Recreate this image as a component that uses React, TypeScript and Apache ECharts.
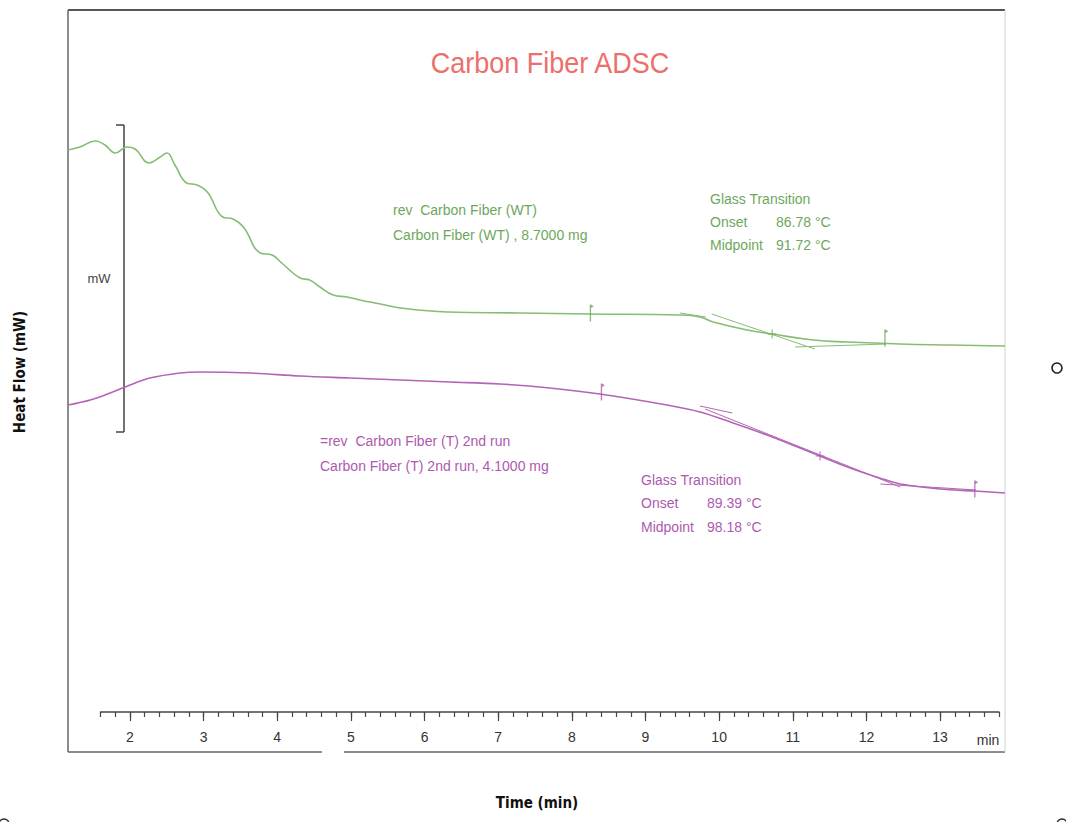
import React, { useEffect, useRef } from "react";
import * as echarts from "echarts";

// Reversing heat flow, Carbon Fiber (WT), 8.7000 mg
const wtTime = [1.16, 1.32, 1.53, 1.66, 1.80, 1.96, 2.07, 2.26, 2.41, 2.50, 2.61, 2.77, 2.91, 3.05, 3.26, 3.40, 3.54, 3.77, 3.93, 4.06, 4.31, 4.44, 4.58, 4.76, 4.95, 5.12, 5.40, 5.67, 6.31, 7.30, 8.25, 9.47, 9.74, 9.92, 10.38, 10.72, 11.28, 11.74, 12.46, 13.14, 13.88];
const wtFlow = [6.02, 6.05, 6.11, 6.07, 5.99, 6.05, 6.03, 5.89, 5.95, 5.99, 5.87, 5.69, 5.67, 5.60, 5.35, 5.33, 5.25, 4.99, 4.97, 4.89, 4.74, 4.72, 4.65, 4.57, 4.55, 4.52, 4.48, 4.44, 4.40, 4.39, 4.38, 4.37, 4.35, 4.30, 4.22, 4.18, 4.12, 4.10, 4.08, 4.07, 4.06];

// Reversing heat flow, Carbon Fiber (T) 2nd run, 4.1000 mg
const tTime = [1.16, 1.46, 1.73, 2.00, 2.27, 2.68, 2.95, 3.63, 4.31, 4.99, 5.67, 6.35, 7.02, 7.70, 8.38, 9.29, 9.74, 10.19, 10.65, 11.10, 11.37, 11.78, 12.18, 12.46, 13.00, 13.47, 13.88];
const tFlow = [3.47, 3.52, 3.59, 3.67, 3.74, 3.79, 3.80, 3.79, 3.76, 3.74, 3.72, 3.70, 3.68, 3.64, 3.58, 3.47, 3.40, 3.29, 3.17, 3.04, 2.96, 2.84, 2.74, 2.68, 2.63, 2.61, 2.59];

// Glass transition constructions (tangent / baseline extensions)
const wtTangent = [[9.90, 4.38], [11.30, 4.03]];
const wtPreBase = [[9.47, 4.39], [9.82, 4.35]];
const wtPostBase = [[11.03, 4.05], [12.27, 4.08]];
const tTangent = [[9.81, 3.43], [12.46, 2.65]];
const tPreBase = [[9.74, 3.46], [10.18, 3.39]];
const tPostBase = [[12.19, 2.68], [13.49, 2.62]];

// Onset/end limit flags and midpoint crosses
const wtFlags = [[8.27, 4.39], [12.27, 4.14]];
const wtMid = [[10.72, 4.18]];
const tFlags = [[8.42, 3.60], [13.49, 2.63]];
const tMid = [[11.37, 2.96]];

const tickLabels = [2, 3, 4, 5, 6, 7, 8, 9, 10, 11, 12, 13];

const GREEN_LINE = "#86bd74";
const GREEN_TEXT = "#6da75d";
const PURPLE_LINE = "#b464b6";
const PURPLE_TEXT = "#ad5aae";
const FONT = '"Liberation Sans Narrow", "Liberation Sans", Arial, sans-serif';
const AXFONT = '"DejaVu Sans Condensed", "DejaVu Sans", sans-serif';

const FLAG = "path://M0,0h1.3v16h-1.3z M1.3,0l2.6,1.6l-2.6,1.6z";
const CROSS = "path://M4,0h1.2v4h4v1.2h-4v4h-1.2v-4h-4v-1.2h4z";

function txt(text: string, x: number, y: number, fill: string, size = 14, align = "left", font = FONT, extra: any = {}, weight = "normal") {
  return {
    type: "text",
    x,
    y,
    silent: true,
    ...extra,
    style: {
      text,
      fill,
      font: `${weight} ${size}px ${font}`,
      textAlign: align,
      textVerticalAlign: "middle",
      verticalAlign: "middle",
    },
  };
}

function ln(x1: number, y1: number, x2: number, y2: number, stroke: string, lineWidth = 1.5) {
  return { type: "line", silent: true, shape: { x1, y1, x2, y2 }, style: { stroke, lineWidth } };
}

export default function App() {
  const ref = useRef<HTMLDivElement>(null);
  useEffect(() => {
    document.body.style.margin = "0";
    if (!ref.current) return;
    const chart = echarts.init(ref.current, undefined, { renderer: "svg" });
    const zip = (a: number[], b: number[]) => a.map((v, i) => [v, b[i]]);
    const construction = (data: number[][], color: string) => ({
      type: "line",
      data,
      xAxisIndex: 0,
      yAxisIndex: 0,
      symbol: "none",
      lineStyle: { color, width: 1 },
      silent: true,
      z: 3,
    });
    const marks = (data: number[][], symbol: string, size: number[], color: string) => ({
      type: "scatter",
      data,
      xAxisIndex: 0,
      yAxisIndex: 0,
      symbol,
      symbolSize: size,
      symbolKeepAspect: false,
      itemStyle: { color },
      silent: true,
      z: 4,
    });
    chart.setOption({
      animation: false,
      backgroundColor: "#ffffff",
      grid: [
        { left: 68, right: 61, top: 10, bottom: 70 },
        { left: 100.5, right: 67, top: 700, height: 12 },
      ],
      xAxis: [
        { type: "value", gridIndex: 0, min: 1.158, max: 13.882, show: false },
        {
          type: "value",
          gridIndex: 1,
          min: 1.6,
          max: 13.8,
          interval: 0.2,
          position: "bottom",
          axisLine: { show: true, lineStyle: { color: "#444", width: 1.5 } },
          axisTick: { show: true, length: 5, lineStyle: { color: "#444", width: 1.2 } },
          axisLabel: { show: false },
          splitLine: { show: false },
        },
        {
          type: "value",
          gridIndex: 1,
          min: 1.6,
          max: 13.8,
          position: "bottom",
          axisLine: { show: false },
          axisTick: { show: true, length: 9, customValues: tickLabels, lineStyle: { color: "#444", width: 1.2 } },
          axisLabel: { show: true, customValues: tickLabels, margin: 18, color: "#333", fontSize: 14, fontFamily: FONT },
          splitLine: { show: false },
        },
      ],
      yAxis: [
        { type: "value", gridIndex: 0, min: 0, max: 7.42, show: false },
        { type: "value", gridIndex: 1, show: false },
      ],
      series: [
        {
          type: "line",
          name: "rev Carbon Fiber (WT)",
          data: zip(wtTime, wtFlow),
          smooth: 0.45,
          symbol: "none",
          lineStyle: { color: GREEN_LINE, width: 1.6 },
          z: 2,
        },
        {
          type: "line",
          name: "rev Carbon Fiber (T) 2nd run",
          data: zip(tTime, tFlow),
          smooth: 0.35,
          symbol: "none",
          lineStyle: { color: PURPLE_LINE, width: 1.6 },
          z: 2,
        },
        construction(wtTangent, GREEN_LINE),
        construction(wtPreBase, GREEN_LINE),
        construction(wtPostBase, GREEN_LINE),
        construction(tTangent, PURPLE_LINE),
        construction(tPreBase, PURPLE_LINE),
        construction(tPostBase, PURPLE_LINE),
        marks(wtFlags, FLAG, [4, 17], GREEN_TEXT),
        marks(wtMid, CROSS, [9, 9], GREEN_TEXT),
        marks(tFlags, FLAG, [4, 17], PURPLE_TEXT),
        marks(tMid, CROSS, [9, 9], PURPLE_TEXT),
      ],
      graphic: [
        // frame
        ln(68, 10, 1005, 10, "#555", 2.2),
        ln(68, 10, 68, 752, "#666", 1.5),
        ln(68, 752, 322, 752, "#666", 1.5),
        ln(344, 752, 1005, 752, "#666", 1.5),
        ln(1005, 10, 1005, 752, "#d0d0d0", 1),
        // mW scale bar
        ln(124, 125, 124, 432, "#444", 1.5),
        ln(116, 125, 124, 125, "#444", 1.5),
        ln(116, 432, 124, 432, "#444", 1.5),
        txt("mW", 99, 278, "#444", 13, "center"),
        // title
        txt("Carbon Fiber ADSC", 550, 62, "#ec6f6c", 30, "center", FONT, { scaleX: 0.9 }),
        // green annotations
        txt("rev  Carbon Fiber (WT)", 393, 210, GREEN_TEXT),
        txt("Carbon Fiber (WT) , 8.7000 mg", 393, 235, GREEN_TEXT),
        txt("Glass Transition", 710, 199, GREEN_TEXT),
        txt("Onset", 710, 222, GREEN_TEXT),
        txt("86.78 °C", 776, 222, GREEN_TEXT),
        txt("Midpoint", 710, 245, GREEN_TEXT),
        txt("91.72 °C", 776, 245, GREEN_TEXT),
        // purple annotations
        txt("=rev  Carbon Fiber (T) 2nd run", 320, 441, PURPLE_TEXT),
        txt("Carbon Fiber (T) 2nd run, 4.1000 mg", 320, 466, PURPLE_TEXT),
        txt("Glass Transition", 641, 480, PURPLE_TEXT),
        txt("Onset", 641, 503, PURPLE_TEXT),
        txt("89.39 °C", 707, 503, PURPLE_TEXT),
        txt("Midpoint", 641, 527, PURPLE_TEXT),
        txt("98.18 °C", 707, 527, PURPLE_TEXT),
        // axis names
        txt("min", 988, 740, "#333", 14, "center"),
        txt("Time (min)", 537, 803, "#111", 15, "center", AXFONT, {}, "bold"),
        txt("Heat Flow (mW)", 20, 372, "#111", 15, "center", AXFONT, { rotation: Math.PI / 2 }, "bold"),
        // punch holes
        { type: "circle", silent: true, shape: { cx: 1057, cy: 368, r: 5 }, style: { fill: "none", stroke: "#222", lineWidth: 1.6 } },
        { type: "circle", silent: true, shape: { cx: 4, cy: 824, r: 5 }, style: { fill: "none", stroke: "#333", lineWidth: 1.4 } },
        { type: "circle", silent: true, shape: { cx: 1062, cy: 824, r: 5 }, style: { fill: "none", stroke: "#333", lineWidth: 1.4 } },
      ],
    });
    return () => chart.dispose();
  }, []);
  return <div ref={ref} style={{ width: 1066, height: 822 }} />;
}
